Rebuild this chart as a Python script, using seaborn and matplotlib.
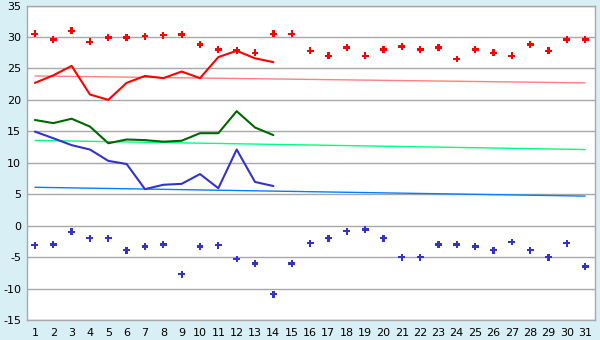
import matplotlib
matplotlib.use("Agg")
import matplotlib.pyplot as plt
import seaborn as sns
import pandas as pd
import numpy as np

days = list(range(1, 32))
days14 = list(range(1, 15))

record_max = [30.5, 29.6, 31.0, 29.25, 29.9, 29.9, 30.1, 30.3, 30.4, 28.8, 28.0, 27.9, 27.5, 30.5,
              30.5, 27.8, 27.0, 28.3, 27.0, 28.0, 28.5, 28.0, 28.3, 26.5, 28.0, 27.5, 27.0, 28.8,
              27.8, 29.6, 29.6]
record_min = [-3.1, -3.0, -1.0, -2.0, -2.0, -3.9, -3.3, -3.0, -7.7, -3.3, -3.1, -5.3, -6.0, -10.9,
              -6.0, -2.8, -2.0, -0.9, -0.6, -2.0, -5.0, -5.0, -3.0, -3.0, -3.3, -3.9, -2.6, -3.9,
              -5.0, -2.8, -6.5]
tmax = [22.7, 23.9, 25.4, 20.85, 20.0, 22.7, 23.8, 23.45, 24.5, 23.45, 26.8, 27.8, 26.6, 26.0]
tmean = [16.8, 16.3, 17.0, 15.75, 13.1, 13.7, 13.6, 13.35, 13.5, 14.7, 14.7, 18.2, 15.6, 14.4]
tmin = [14.95, 13.9, 12.8, 12.1, 10.3, 9.8, 5.8, 6.5, 6.65, 8.2, 5.95, 12.1, 6.95, 6.3]
trend_days = [1, 31]
trend_max = [23.8, 22.7]
trend_mean = [13.55, 12.1]
trend_min = [6.1, 4.7]

bg = "#D9EFF6"
sns.set_theme(style="white")
plt.rcParams["font.family"] = ["DejaVu Sans"]
plt.rcParams["axes.unicode_minus"] = False

fig = plt.figure(figsize=(6, 3.4), dpi=100, facecolor=bg)
ax = fig.add_axes([0.0445, 0.0588, 0.9475, 0.925])
ax.set_facecolor("white")

for yv in range(-15, 36, 5):
    ax.axhline(yv, color="#A8A8A8", lw=1.0, zorder=0)

df_trend = pd.DataFrame({"day": trend_days * 3,
                         "val": trend_max + trend_mean + trend_min,
                         "s": ["a"] * 2 + ["b"] * 2 + ["c"] * 2})
sns.lineplot(data=df_trend, x="day", y="val", hue="s",
             palette={"a": "#FF8080", "b": "#00FF80", "c": "#0080FF"},
             lw=1.0, legend=False, ax=ax, zorder=2)

df14 = pd.DataFrame({"day": days14 * 3, "val": tmax + tmean + tmin,
                     "s": ["max"] * 14 + ["mean"] * 14 + ["min"] * 14})
sns.lineplot(data=df14, x="day", y="val", hue="s",
             palette={"max": "#FF0000", "mean": "#006600", "min": "#3333CC"},
             lw=1.5, legend=False, ax=ax, zorder=3)

df31 = pd.DataFrame({"day": days * 2, "val": record_max + record_min,
                     "s": ["rmax"] * 31 + ["rmin"] * 31})
sns.scatterplot(data=df31, x="day", y="val", hue="s",
                palette={"rmax": "#FF0000", "rmin": "#3333CC"},
                marker="P", s=25, linewidth=0, legend=False, ax=ax, zorder=4)

ax.set_xlim(0.55, 31.55)
ax.set_ylim(-15, 35)
ax.set_xticks(days)
ax.set_yticks(range(-15, 36, 5))
ax.set_xlabel("")
ax.set_ylabel("")
for sp in ax.spines.values():
    sp.set_color("#A8A8A8")
    sp.set_linewidth(1.0)
ax.tick_params(axis="both", direction="out", length=4, width=1, color="#000000",
               labelsize=8, labelcolor="#000000", pad=1.5)
ax.tick_params(axis="y", length=3, pad=1)

fig.savefig("out.png", dpi=100, facecolor=bg)
